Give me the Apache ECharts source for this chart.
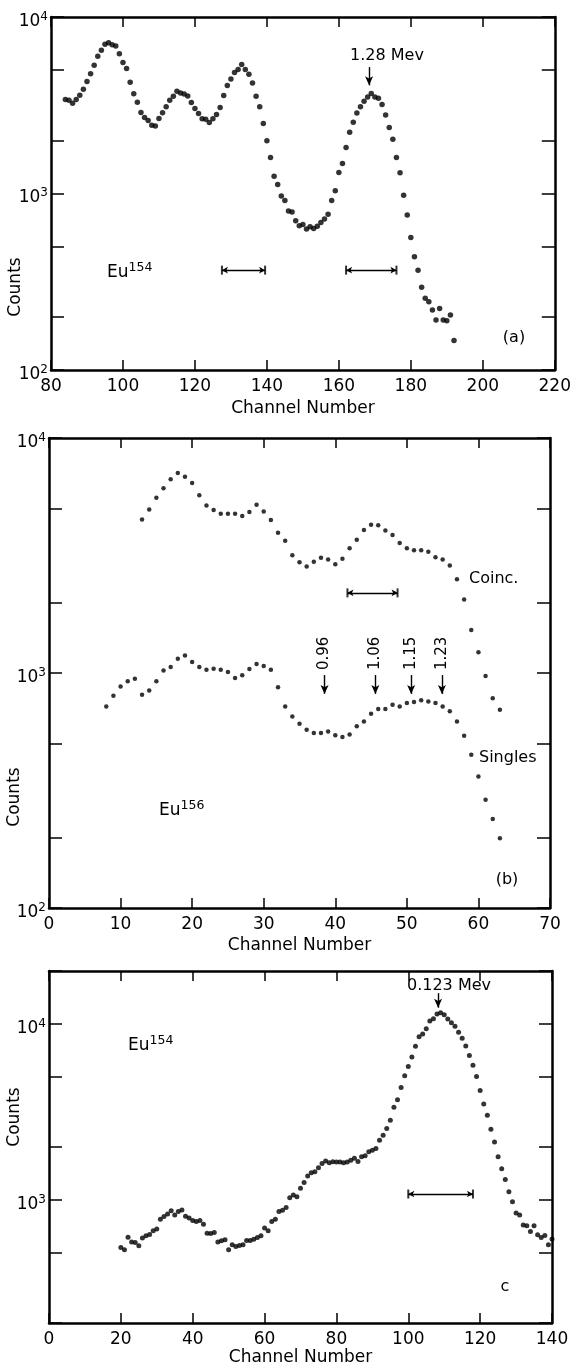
<!DOCTYPE html>
<html>
<head>
<meta charset="utf-8">
<script src="https://cdn.jsdelivr.net/npm/echarts@6.0.0/dist/echarts.min.js"></script>
<style>
  html, body { margin: 0; padding: 0; background: #fff; }
  #main { width: 574px; height: 1367px; }
</style>
</head>
<body>
<div id="main"></div>
<script>
// channel ranges of each spectrum
function range(a, b) {
  const out = [];
  for (let c = a; c <= b; c++) out.push(c);
  return out;
}

// (a) Eu154, channels 84..192
const channelsA = range(84, 192);
const countsA = [
  3404, 3375, 3245, 3404, 3606, 3899, 4305, 4776, 5323, 5984,
  6477, 6998, 7155, 6971, 6850, 6198, 5516, 5105, 4270, 3680,
  3289, 2873, 2692, 2589, 2437, 2416, 2659, 2866, 3097, 3375,
  3556, 3796, 3715, 3665, 3571, 3275, 3029, 2837, 2649, 2638,
  2525, 2649, 2799, 3069, 3590, 4095, 4447, 4843, 5039, 5380,
  5039, 4740, 4230, 3558, 3096, 2493, 1987, 1600, 1254, 1125,
  967, 914, 795, 785, 700, 656, 668, 629, 648, 634,
  653, 686, 716, 762, 914, 1036, 1316, 1480, 1823, 2225,
  2535, 2862, 3096, 3334, 3526, 3686, 3526, 3467, 3193, 2788,
  2366, 2032, 1600, 1309, 979, 755, 564, 438, 368, 294,
  255, 244, 219, 192, 223, 192, 190, 205, 147
];
const barsA = [[127.5, 139.5], [162, 176]];
const barLevelA = 368;
const peakA = 168.4;

// (b) Eu156, coincidence and singles
const channelsCoinc = range(13, 63);
const countsCoinc = [
  4500, 4966, 5571, 6109, 6673, 7101, 6846, 6429, 5711, 5163,
  4933, 4761, 4761, 4761, 4655, 4840, 5200, 4869, 4476, 3953,
  3651, 3170, 2962, 2840, 2972, 3090, 3040, 2904, 3062, 3399,
  3687, 4056, 4272, 4258, 4042, 3864, 3574, 3399, 3333, 3333,
  3279, 3112, 3040, 2867, 2506, 2053, 1525, 1225, 971, 780,
  698
];
const channelsSingles = range(8, 63);
const countsSingles = [
  721, 800, 877, 922, 946, 809, 843, 922, 1026, 1061,
  1151, 1186, 1114, 1061, 1033, 1043, 1033, 1010, 952, 977,
  1040, 1092, 1071, 1033, 869, 721, 653, 608, 574, 555,
  555, 564, 544, 534, 548, 593, 622, 671, 703, 703,
  733, 721, 745, 752, 765, 757, 745, 721, 687, 622,
  541, 449, 363, 289, 239, 198
];
const barsB = [[41.7, 48.7]];
const barLevelB = 2193;
const linesB = [38.5, 45.6, 50.6, 54.9];
const lineNamesB = ['0.96', '1.06', '1.15', '1.23'];

// (c) Eu154, low energy
const channelsC = range(20, 140);
const countsC = [
  537, 521, 615, 578, 574, 549, 609, 626, 636, 668,
  685, 778, 805, 833, 870, 822, 859, 878, 809, 791,
  764, 754, 764, 728, 648, 645, 653, 578, 586, 594,
  521, 556, 545, 552, 556, 589, 589, 599, 612, 626,
  692, 668, 754, 778, 859, 874, 905, 1031, 1067, 1044,
  1165, 1259, 1367, 1428, 1447, 1524, 1613, 1663, 1626, 1648,
  1641, 1641, 1626, 1641, 1684, 1729, 1656, 1759, 1782, 1877,
  1919, 1961, 2187, 2333, 2545, 2836, 3360, 3712, 4360, 5076,
  5731, 6502, 7469, 8474, 8774, 9400, 10400, 10714, 11382, 11590,
  11288, 10670, 10170, 9696, 8966, 8293, 7506, 6618, 5835, 5033,
  4194, 3508, 3027, 2522, 2138, 1758, 1503, 1309, 1115, 978,
  844, 822, 722, 713, 662, 713, 634, 612, 629, 556,
  600
];
const barsC = [[100, 118]];
const barLevelC = 1081;
const peakC = 108.3;

const FONT = 'DejaVu Sans';
const INK = '#000';

const pairs = (xs, ys) => xs.map((x, i) => [x, ys[i]]);

function xAxes(gi, min, max, interval, nameGap) {
  const base = {
    type: 'value', gridIndex: gi, min: min, max: max, interval: interval,
    axisLine: { show: true, onZero: false, lineStyle: { color: INK, width: 2.5 } },
    axisTick: { show: true, inside: true, length: 10, lineStyle: { color: INK, width: 1.5 } },
    splitLine: { show: false }
  };
  return [
    Object.assign({}, base, {
      position: 'bottom',
      axisLabel: { color: INK, fontFamily: FONT, fontSize: 17, margin: 8 },
      name: 'Channel Number', nameLocation: 'middle', nameGap: nameGap,
      nameTextStyle: { color: INK, fontFamily: FONT, fontSize: 17 }
    }),
    Object.assign({}, base, { position: 'top', axisLabel: { show: false } })
  ];
}

function yAxes(gi, min, max, ticks, labels) {
  const base = {
    type: 'log', logBase: 10, gridIndex: gi, min: min, max: max,
    axisLine: { show: true, onZero: false, lineStyle: { color: INK, width: 2.5 } },
    axisTick: { show: true, inside: true, length: 13, customValues: ticks, lineStyle: { color: INK, width: 1.5 } },
    splitLine: { show: false },
    minorTick: { show: false }
  };
  return [
    Object.assign({}, base, {
      position: 'left',
      axisLabel: {
        customValues: labels, margin: 3, padding: [9, 0, 0, 0],
        formatter: v => '{b|10}{s|' + Math.round(Math.log10(v)) + '}',
        rich: {
          b: { fontFamily: FONT, fontSize: 17, color: INK, lineHeight: 22 },
          s: { fontFamily: FONT, fontSize: 12, color: INK, lineHeight: 12, verticalAlign: 'top' }
        }
      }
    }),
    Object.assign({}, base, { position: 'right', axisLabel: { show: false } })
  ];
}

function dots(ax, data, size) {
  return {
    type: 'scatter', xAxisIndex: ax, yAxisIndex: ax, data: data,
    symbol: 'circle', symbolSize: size, itemStyle: { color: INK },
    silent: true, z: 3
  };
}

function rangeBars(ax, bars, level) {
  return {
    type: 'scatter', xAxisIndex: ax, yAxisIndex: ax,
    data: bars.flatMap(b => [[b[0], level], [b[1], level]]),
    symbol: 'rect', symbolSize: [2, 9], itemStyle: { color: INK }, silent: true,
    markLine: {
      silent: true, symbol: ['arrow', 'arrow'], symbolSize: [5, 6],
      lineStyle: { color: INK, width: 1.3, type: 'solid' },
      label: { show: false }, animation: false,
      data: bars.map(b => [{ coord: [b[0], level] }, { coord: [b[1], level] }])
    }
  };
}

function arrows(ax, xs, from, to) {
  return {
    type: 'scatter', xAxisIndex: ax, yAxisIndex: ax, data: [], silent: true,
    markLine: {
      silent: true, symbol: ['none', 'arrow'], symbolSize: [6, 9],
      lineStyle: { color: INK, width: 1.4, type: 'solid' },
      label: { show: false }, animation: false,
      data: xs.map(x => [{ coord: [x, from] }, { coord: [x, to] }])
    }
  };
}

const txt = (text, x, y, extra) => Object.assign({
  type: 'text', x: x, y: y, silent: true,
  style: Object.assign({
    text: text, fill: INK, font: '16px "' + FONT + '"', align: 'center', verticalAlign: 'middle'
  }, extra && extra.style)
}, extra && extra.el);

const supRich = {
  b: { fontFamily: FONT, fontSize: 17, fill: INK, lineHeight: 24 },
  s: { fontFamily: FONT, fontSize: 12.5, fill: INK, lineHeight: 12, verticalAlign: 'top' }
};

const chart = echarts.init(document.getElementById('main'));

chart.setOption({
  animation: false,
  backgroundColor: '#fff',
  grid: [
    { left: 51, top: 17, width: 505, height: 353 },
    { left: 49, top: 438, width: 501, height: 470 },
    { left: 49, top: 971, width: 503, height: 353 }
  ],
  xAxis: [].concat(
    xAxes(0, 80, 220, 20, 30),
    xAxes(1, 0, 70, 10, 29),
    xAxes(2, 0, 140, 20, 26)
  ),
  yAxis: [].concat(
    yAxes(0, 100, 10000, [100, 200, 500, 1000, 2000, 5000, 10000], [100, 1000, 10000]),
    yAxes(1, 100, 10000, [100, 200, 500, 1000, 2000, 5000, 10000], [100, 1000, 10000]),
    yAxes(2, 200, 20000, [200, 500, 1000, 2000, 5000, 10000, 20000], [1000, 10000])
  ),
  series: [
    dots(0, pairs(channelsA, countsA), 5.5),
    rangeBars(0, barsA, barLevelA),
    arrows(0, [peakA], 5200, 4100),

    dots(2, pairs(channelsCoinc, countsCoinc), 4.5),
    dots(2, pairs(channelsSingles, countsSingles), 4.5),
    rangeBars(2, barsB, barLevelB),
    arrows(2, linesB, 980, 815),

    dots(4, pairs(channelsC, countsC), 5),
    rangeBars(4, barsC, barLevelC),
    arrows(4, [peakC], 14970, 12370)
  ]
});

// text annotations
const notes = [
  txt('Counts', 16, 287, { el: { rotation: Math.PI / 2 }, style: { font: '17px "' + FONT + '"' } }),
  txt('Counts', 15, 797, { el: { rotation: Math.PI / 2 }, style: { font: '17px "' + FONT + '"' } }),
  txt('Counts', 15, 1117, { el: { rotation: Math.PI / 2 }, style: { font: '17px "' + FONT + '"' } }),

  txt('1.28 Mev', 387, 56),
  txt('', 107, 273, { style: { text: '{b|Eu}{s|154}', rich: supRich, align: 'left' } }),
  txt('(a)', 514, 338),

  txt('Coinc.', 469, 579, { style: { align: 'left' } }),
  txt('Singles', 479, 758, { style: { align: 'left' } }),
  txt('', 159, 811, { style: { text: '{b|Eu}{s|156}', rich: supRich, align: 'left' } }),
  txt('(b)', 507, 880),

  txt('0.123 Mev', 449, 986),
  txt('', 128, 1046, { style: { text: '{b|Eu}{s|154}', rich: supRich, align: 'left' } }),
  txt('c', 505, 1287)
];

// energy labels of panel (b), standing above their arrows
linesB.forEach((x, i) => {
  const p = chart.convertToPixel({ gridIndex: 1 }, [x, 1030]);
  notes.push(txt(lineNamesB[i], p[0], p[1], {
    el: { rotation: Math.PI / 2 },
    style: { align: 'left', font: '15px "' + FONT + '"' }
  }));
});

chart.setOption({ graphic: notes });
</script>
</body>
</html>
